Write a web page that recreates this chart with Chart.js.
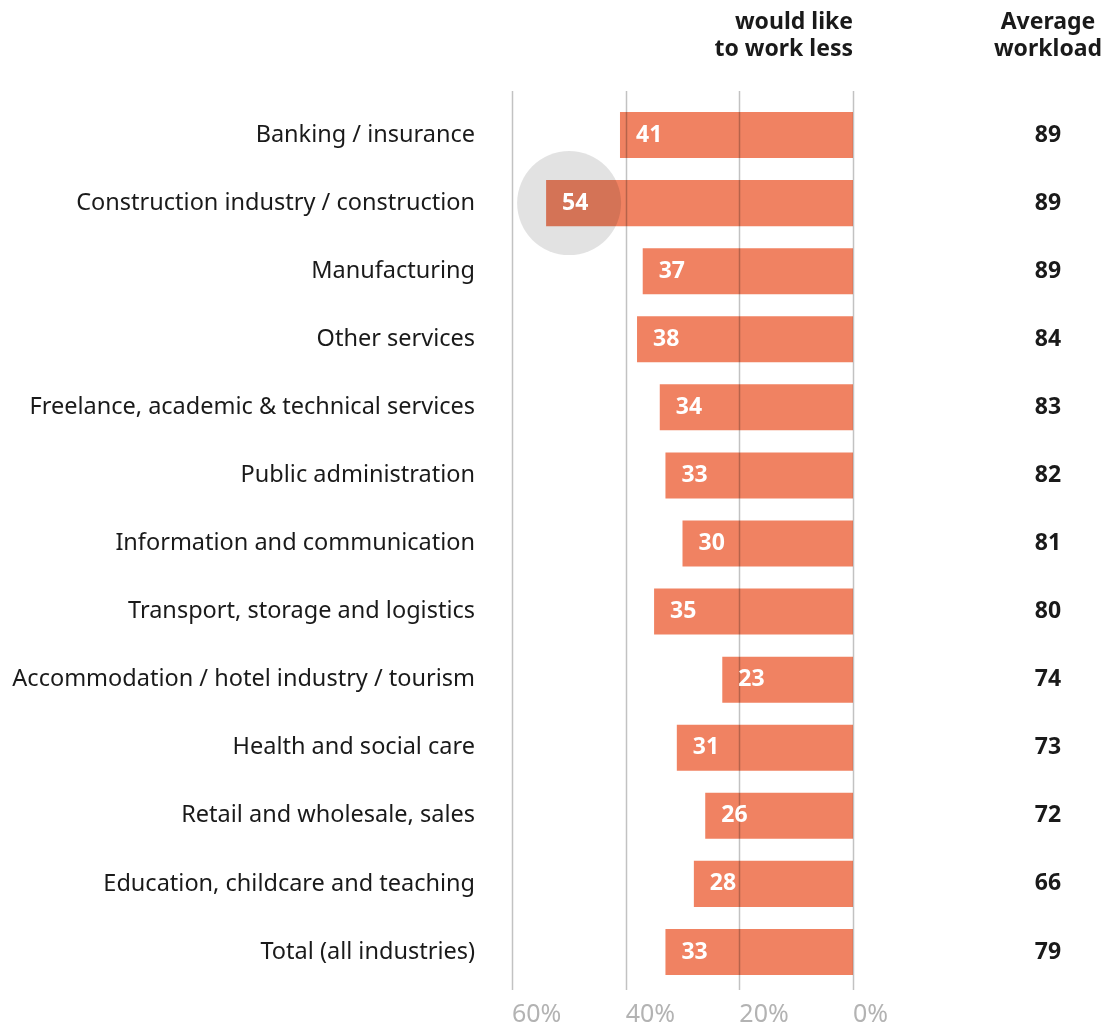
<!DOCTYPE html>
<html>
<head>
<meta charset="utf-8">
<script src="https://cdn.jsdelivr.net/npm/chart.js@4"></script>
<style>
  html, body { margin: 0; padding: 0; background: #fff; overflow: hidden; }
  canvas { display: block; }
</style>
</head>
<body>
<canvas id="chartWorkload" width="1117" height="1025"></canvas>
<script>
const industries = [
  'Banking / insurance',
  'Construction industry / construction',
  'Manufacturing',
  'Other services',
  'Freelance, academic & technical services',
  'Public administration',
  'Information and communication',
  'Transport, storage and logistics',
  'Accommodation / hotel industry / tourism',
  'Health and social care',
  'Retail and wholesale, sales',
  'Education, childcare and teaching',
  'Total (all industries)'
];
const workLess = [41, 54, 37, 38, 34, 33, 30, 35, 23, 31, 26, 28, 33];
const avgWorkload = [89, 89, 89, 84, 83, 82, 81, 80, 74, 73, 72, 66, 79];
const xTicks = [0, 20, 40, 60];
const highlighted = 1;

const FONT = '"Noto Sans", "Open Sans", sans-serif';
const BAR = '#f08262';

// grid on top of the bars, highlight circle, value labels, right column
const overlay = {
  id: 'overlay',
  afterDatasetsDraw(chart) {
    const ctx = chart.ctx;
    const xs = chart.scales.x;
    const area = chart.chartArea;
    const bars = chart.getDatasetMeta(0).data;

    ctx.save();
    ctx.strokeStyle = 'rgba(0,0,0,0.24)';
    ctx.lineWidth = 1.5;
    xTicks.forEach(v => {
      const x = Math.round(xs.getPixelForValue(v)) + 0.5;
      ctx.beginPath();
      ctx.moveTo(x, area.top - 10);
      ctx.lineTo(x, area.bottom + 4);
      ctx.stroke();
    });

    const hb = bars[highlighted];
    ctx.fillStyle = 'rgba(0,0,0,0.115)';
    ctx.beginPath();
    ctx.arc(hb.x + 23, hb.y, 52, 0, Math.PI * 2);
    ctx.fill();

    ctx.fillStyle = '#fff';
    ctx.font = 'bold 23px ' + FONT;
    ctx.textAlign = 'left';
    ctx.textBaseline = 'middle';
    bars.forEach((b, i) => {
      ctx.fillText(workLess[i], b.x + 16, b.y);
    });

    ctx.fillStyle = '#1a1a1a';
    ctx.textAlign = 'center';
    bars.forEach((b, i) => {
      ctx.fillText(avgWorkload[i], 1048, b.y);
    });

    ctx.fillText('Average', 1048, 22);
    ctx.fillText('workload', 1048, 49);
    ctx.textAlign = 'right';
    ctx.fillText('would like', xs.getPixelForValue(0), 22);
    ctx.fillText('to work less', xs.getPixelForValue(0), 49);
    ctx.restore();
  }
};

new Chart(document.getElementById('chartWorkload'), {
  type: 'bar',
  data: {
    labels: industries,
    datasets: [{
      data: workLess,
      backgroundColor: BAR,
      borderWidth: 0,
      categoryPercentage: 1,
      barPercentage: 0.676
    }]
  },
  options: {
    indexAxis: 'y',
    responsive: false,
    animation: false,
    layout: { padding: { top: 101, right: 264, left: 0, bottom: 0 } },
    plugins: { legend: { display: false }, tooltip: { enabled: false } },
    scales: {
      x: {
        min: 0,
        max: 60,
        reverse: true,
        border: { display: false },
        grid: { display: false, drawTicks: false },
        afterFit(scale) { scale.height = 39; },
        afterBuildTicks(scale) { scale.ticks = xTicks.map(v => ({ value: v })); },
        ticks: {
          color: '#b3b3b3',
          padding: 14,
          align: 'start',
          font: { family: FONT, size: 25 },
          callback: v => v + '%'
        }
      },
      y: {
        border: { display: false },
        grid: { display: false, drawTicks: false },
        afterFit(scale) {
          scale.width = 512;
          scale.paddingTop = 0;
          scale.paddingBottom = 0;
        },
        ticks: {
          color: '#1a1a1a',
          padding: 37,
          font: { family: FONT, size: 23.5 }
        }
      }
    }
  },
  plugins: [overlay]
});
</script>
</body>
</html>
